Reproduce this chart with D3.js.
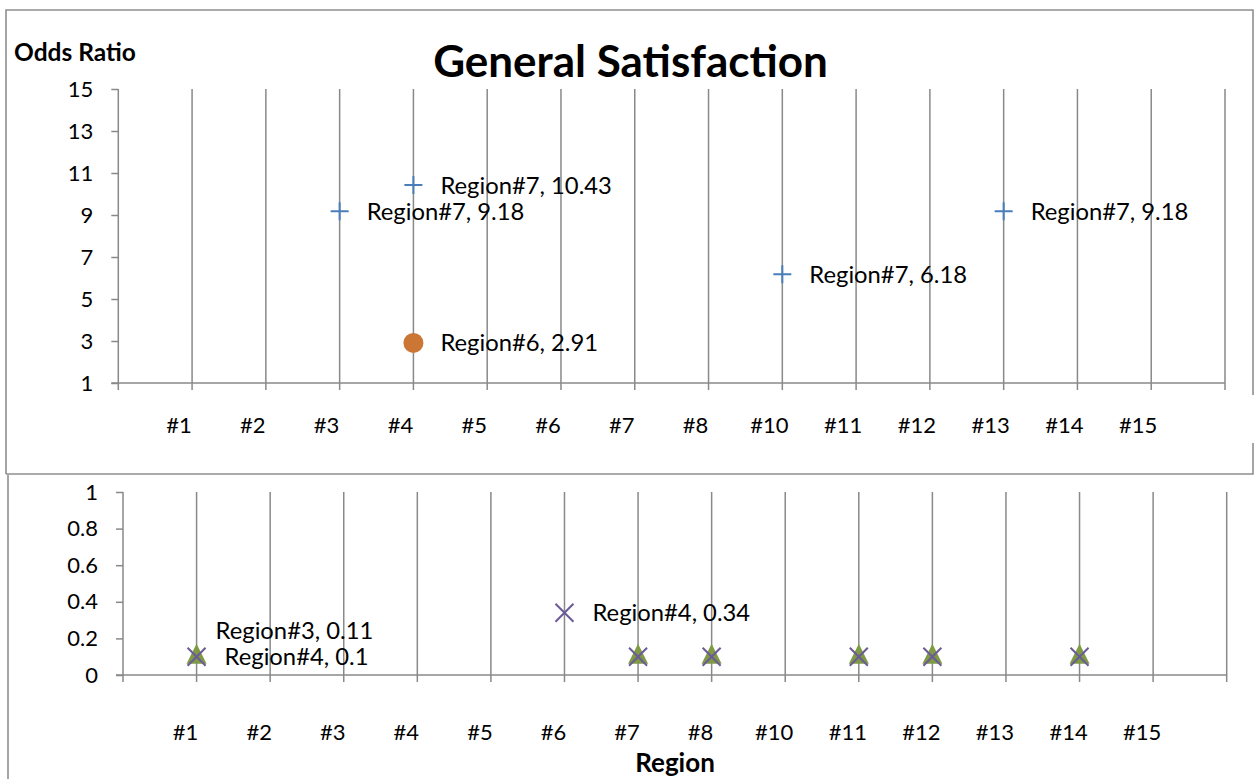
<!DOCTYPE html>
<html>
<head>
<meta charset="utf-8">
<script src="https://cdn.jsdelivr.net/npm/d3@7"></script>
<style>
  html, body { margin: 0; padding: 0; background: #fff; }
  svg { display: block; }
  text { font-family: Lato, "Open Sans", sans-serif; fill: #000; }
</style>
</head>
<body>
<svg id="chart" width="1255" height="779"></svg>
<script>
// Region names shown under each panel (there is no #9)
const regionLabels = ["#1", "#2", "#3", "#4", "#5", "#6", "#7", "#8", "#10", "#11", "#12", "#13", "#14", "#15"];
const slotCount = 15;

// Upper panel: odds ratios above 1
const topTicks = [1, 3, 5, 7, 9, 11, 13, 15];
const region7Slots = [3, 4, 9, 12];
const region7Values = [9.18, 10.43, 6.18, 9.18];
const region6Slots = [4];
const region6Values = [2.91];

// Lower panel: odds ratios below 1
const bottomTicks = [0, 0.2, 0.4, 0.6, 0.8, 1];
const region3Slots = [1, 7, 8, 10, 11, 13];
const region3Values = [0.11, 0.11, 0.11, 0.11, 0.11, 0.11];
const region4Slots = [1, 6, 7, 8, 10, 11, 13];
const region4Values = [0.1, 0.34, 0.1, 0.1, 0.1, 0.1, 0.1];
// which points carry a value label
const region3Labelled = [0];
const region4Labelled = [0, 1];

const GRID = "#898989";
const BLUE = "#4a7ebb";
const ORANGE = "#cb7634";
const GREEN = "#7e9a44";
const PURPLE = "#6c5a98";
const FS = 22;       // axis labels
const FS_VAL = 23.8; // value labels

const svg = d3.select("#chart");
svg.append("rect").attr("width", 1255).attr("height", 779).attr("fill", "#fff");

// frames
svg.append("path")
  .attr("d", "M6,474 V10 H1253 V395 M1253,443 V474 H6")
  .attr("fill", "none").attr("stroke", "#8f8f8f").attr("stroke-width", 1.6);
svg.append("path")
  .attr("d", "M8,475 V779")
  .attr("fill", "none").attr("stroke", "#8f8f8f").attr("stroke-width", 1.6);

function panel(opts) {
  const g = svg.append("g");
  const x = d3.scaleLinear().domain([0, slotCount]).range(opts.xRange);
  const y = d3.scaleLinear().domain(opts.yDomain).range(opts.yRange);
  const y0 = opts.yRange[0];
  const y1 = opts.yRange[1];
  const tick = 7;

  // vertical gridlines, extended below the axis as tick marks
  g.append("g").selectAll("line")
    .data(d3.range(1, slotCount + 1))
    .join("line")
    .attr("x1", d => x(d)).attr("x2", d => x(d))
    .attr("y1", y1).attr("y2", y0 + tick)
    .attr("stroke", GRID).attr("stroke-width", 1.5);

  // value axis
  const ax = d3.axisLeft(y).tickValues(opts.ticks).tickSize(tick).tickSizeOuter(0)
    .tickPadding(opts.pad).tickFormat(opts.fmt);
  const axG = g.append("g").attr("transform", `translate(${x(0)},0)`).call(ax);
  axG.select(".domain").remove();
  axG.selectAll(".tick line").attr("stroke", GRID).attr("stroke-width", 1.5);
  axG.selectAll(".tick text").attr("font-size", FS).attr("font-family", "Lato").attr("fill", "#000");
  g.append("line")
    .attr("x1", x(0)).attr("x2", x(0)).attr("y1", y1).attr("y2", y0 + tick)
    .attr("stroke", GRID).attr("stroke-width", 1.5);
  // category axis line
  g.append("line")
    .attr("x1", x(0) - tick).attr("x2", x(slotCount)).attr("y1", y0).attr("y2", y0)
    .attr("stroke", GRID).attr("stroke-width", 1.5);

  // region names
  g.append("g").selectAll("text")
    .data(regionLabels)
    .join("text")
    .attr("x", (d, i) => x(i + 1) + opts.labelShift)
    .attr("y", opts.labelY)
    .attr("text-anchor", "middle")
    .attr("font-size", FS)
    .text(d => d);

  return { g, x, y };
}

const upper = panel({
  xRange: [118.3, 1225], yDomain: [1, 15], yRange: [383, 89],
  ticks: topTicks, fmt: d3.format("d"), pad: 18, labelShift: -13, labelY: 433
});
const lower = panel({
  xRange: [123, 1226.7], yDomain: [0, 1], yRange: [675, 492],
  ticks: bottomTicks, fmt: d => String(d), pad: 18, labelShift: -11, labelY: 740
});

// titles
svg.append("text").attr("x", 630.5).attr("y", 77).attr("text-anchor", "middle")
  .attr("font-size", 44).attr("font-weight", "bold").text("General Satisfaction");
svg.append("text").attr("x", 14).attr("y", 61)
  .attr("font-size", 24.5).attr("font-weight", "bold").text("Odds Ratio");
svg.append("text").attr("x", 675).attr("y", 772).attr("text-anchor", "middle")
  .attr("font-size", 26).attr("font-weight", "bold").text("Region");

function valueLabel(g, px, py, txt, dx, dy) {
  g.append("text")
    .attr("x", px + dx).attr("y", py + dy)
    .attr("dy", "0.36em")
    .attr("font-size", FS_VAL)
    .text(txt);
}

// Region#7: plus markers
region7Slots.forEach((s, i) => {
  const px = upper.x(s), py = upper.y(region7Values[i]);
  upper.g.append("path")
    .attr("d", `M${px - 9},${py} H${px + 9} M${px},${py - 9} V${py + 9}`)
    .attr("stroke", BLUE).attr("stroke-width", 2).attr("fill", "none");
  valueLabel(upper.g, px, py, `Region#7, ${region7Values[i]}`, 27, 0);
});

// Region#6: filled circle
region6Slots.forEach((s, i) => {
  const px = upper.x(s), py = upper.y(region6Values[i]);
  upper.g.append("circle").attr("cx", px).attr("cy", py).attr("r", 10).attr("fill", ORANGE);
  valueLabel(upper.g, px, py, `Region#6, ${region6Values[i]}`, 27, 0);
});

// Region#3: triangles
region3Slots.forEach((s, i) => {
  const px = lower.x(s), py = lower.y(region3Values[i]);
  lower.g.append("path")
    .attr("d", `M${px},${py - 11} L${px + 10},${py + 9} L${px - 10},${py + 9} Z`)
    .attr("fill", GREEN);
});
// Region#4: crosses drawn over the triangles
region4Slots.forEach((s, i) => {
  const px = lower.x(s), py = lower.y(region4Values[i]);
  lower.g.append("path")
    .attr("d", `M${px - 9},${py - 9} L${px + 9},${py + 9} M${px + 9},${py - 9} L${px - 9},${py + 9}`)
    .attr("stroke", PURPLE).attr("stroke-width", 2).attr("fill", "none");
});
// labels: the Region#3 label is lifted above the Region#4 one where they share a point
region3Labelled.forEach(i => {
  const px = lower.x(region3Slots[i]), py = lower.y(region3Values[i]);
  valueLabel(lower.g, px, py, `Region#3, ${region3Values[i]}`, 19, -24);
});
region4Labelled.forEach(i => {
  const px = lower.x(region4Slots[i]), py = lower.y(region4Values[i]);
  valueLabel(lower.g, px, py, `Region#4, ${region4Values[i]}`, 28, 0);
});
</script>
</body>
</html>
